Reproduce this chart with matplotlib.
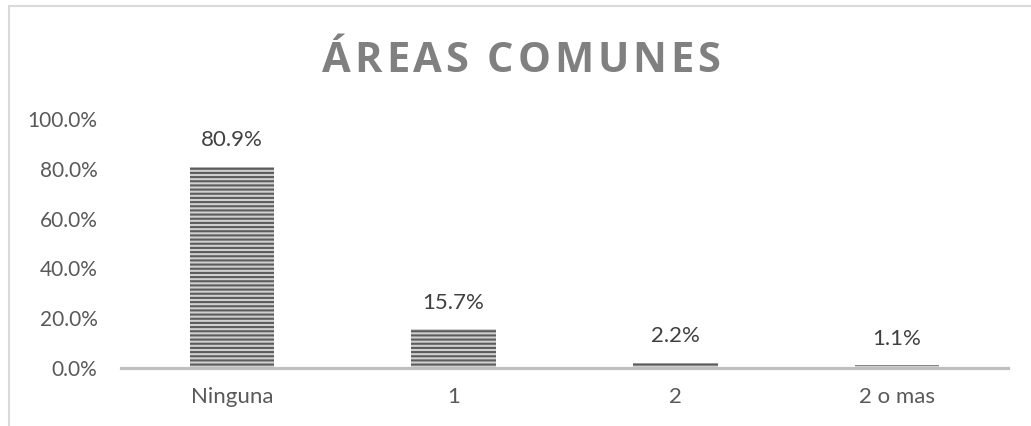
import matplotlib
matplotlib.use("Agg")
import matplotlib.pyplot as plt
from matplotlib.patches import Rectangle

# data
categories = ["Ninguna", "1", "2", "2 o mas"]
values = [0.809, 0.157, 0.022, 0.011]
labels = ["80.9%", "15.7%", "2.2%", "1.1%"]
yticks = [0.0, 0.2, 0.4, 0.6, 0.8, 1.0]
title = "ÁREAS COMUNES"

plt.rcParams['font.family'] = ['Lato', 'DejaVu Sans']
plt.rcParams['hatch.color'] = '#5c5c5c'
plt.rcParams['hatch.linewidth'] = 1.5

W, H = 1031, 426
fig = plt.figure(figsize=(W / 100, H / 100), dpi=100)
ax = fig.add_axes([121 / W, 1 - 368 / H, (1008 - 121) / W, (368 - 119) / H])

x = range(len(categories))
ax.bar(x, values, width=0.38, color='#d0d0d0', hatch='----', edgecolor='#5c5c5c', linewidth=0)

for xi, v, lab in zip(x, values, labels):
    ax.annotate(lab, (xi, v), xytext=(0, 19), textcoords='offset points',
                ha='center', va='center', fontsize=16, color='#404040')

ax.set_xlim(-0.5, len(categories) - 0.5)
ax.set_ylim(0, 1.0)
ax.set_yticks(yticks)
ax.set_yticklabels([f"{t * 100:.1f}%" for t in yticks])
ax.set_xticks(list(x))
ax.set_xticklabels(categories)
ax.tick_params(axis='both', length=0, labelcolor='#595959')
ax.tick_params(axis='y', pad=17, labelsize=15)
ax.tick_params(axis='x', pad=14, labelsize=16)

for side in ['top', 'right', 'left']:
    ax.spines[side].set_visible(False)
ax.spines['bottom'].set_color('#bfbfbf')
ax.spines['bottom'].set_linewidth(2.3)

# title with letter spacing, placed char by char
renderer = fig.canvas.get_renderer()
tprops = dict(fontsize=30, fontweight='bold', color='#808080',
              family=['Open Sans', 'DejaVu Sans'])


def text_w(s):
    t = fig.text(0, 0, s, **tprops)
    w = t.get_window_extent(renderer).width
    t.remove()
    return w


base = text_w("HH")
adv = [text_w("H" + ch + "H") - base for ch in title]
target = 398
spacing = (target - sum(adv)) / (len(title) - 1)
xpos = 521 - target / 2
for ch, a in zip(title, adv):
    if ch != " ":
        fig.text(xpos / W, 1 - 72 / H, ch, ha='left', va='baseline', **tprops)
    xpos += a + spacing

# chart frame (runs past the right and bottom edge)
fig.patches.append(Rectangle((8.5 / W, -0.2), 1.2, 1.2 - 5.5 / H,
                             transform=fig.transFigure, fill=False,
                             edgecolor='#d9d9d9', linewidth=1.5))

fig.savefig("out.png", dpi=100)
